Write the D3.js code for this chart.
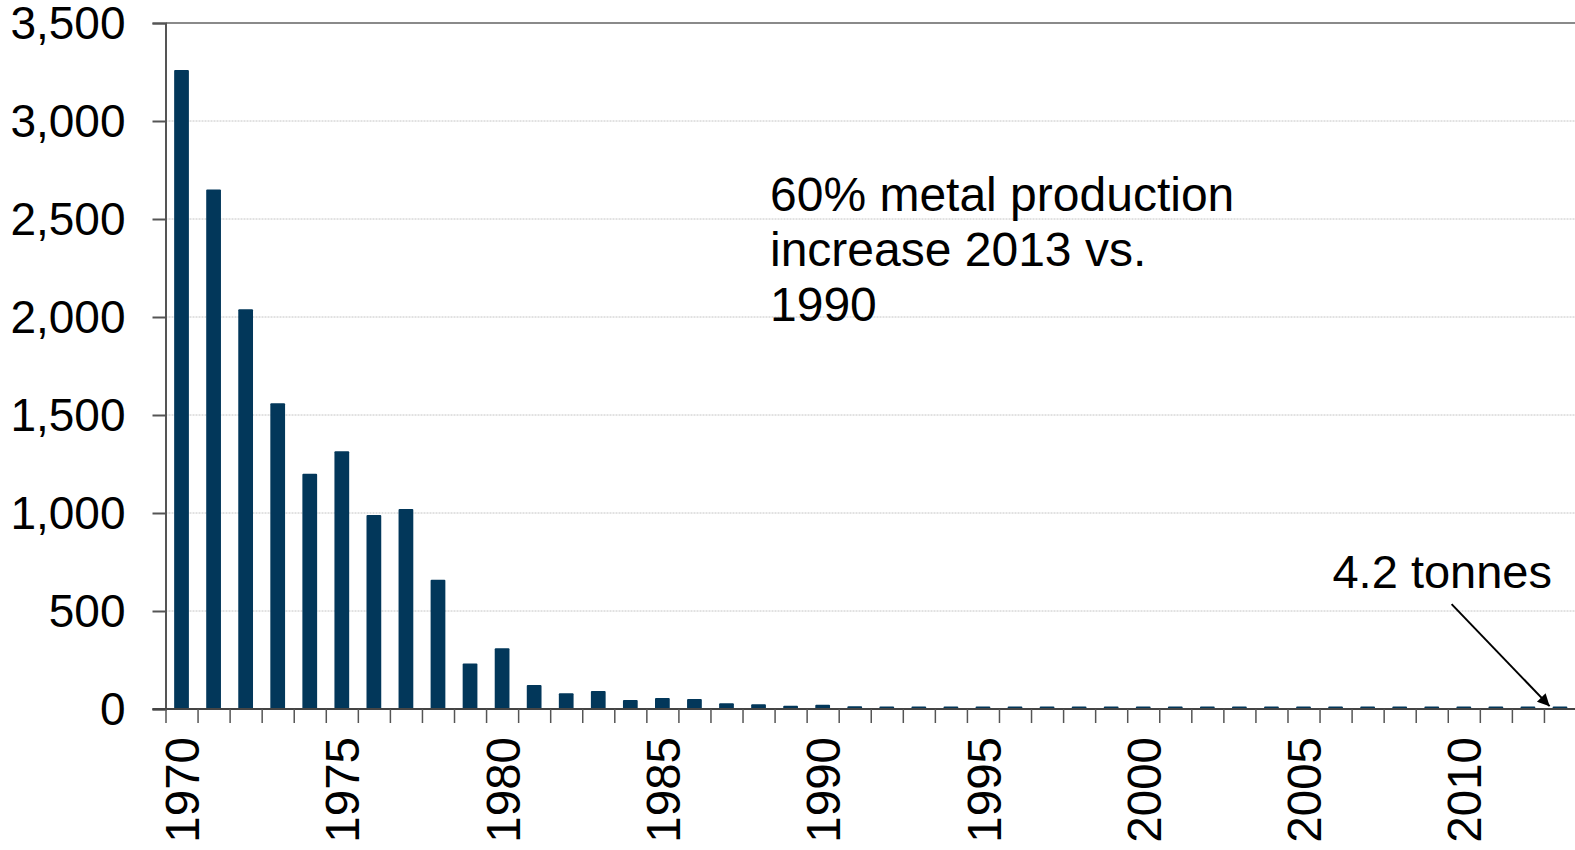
<!DOCTYPE html>
<html>
<head>
<meta charset="utf-8">
<script src="https://cdn.jsdelivr.net/npm/d3@7"></script>
<style>
  html, body { margin: 0; padding: 0; background: #fff; }
  svg { display: block; font-family: "Liberation Sans", Arial, sans-serif; }
</style>
</head>
<body>
<svg id="chart" width="1575" height="850"></svg>
<script>
// ---- data ----
const years = d3.range(1970, 2014);
const values = [
  3260, 2650, 2040, 1560, 1200, 1315, 990, 1020, 660, 232,
  310, 122, 80, 92, 46, 56, 51, 29, 24, 17,
  22, 14, 13, 11, 10, 10, 11, 10, 12, 9,
  9, 10, 8, 9, 8, 8, 7, 7, 6, 5,
  5, 5, 4.5, 4.2
];
const yTicks = [0, 500, 1000, 1500, 2000, 2500, 3000, 3500];
const xLabelYears = [1970, 1975, 1980, 1985, 1990, 1995, 2000, 2005, 2010];
const noteLines = ["60% metal production", "increase 2013 vs.", "1990"];
const arrowLabel = "4.2 tonnes";
const arrowYear = 2013;
const arrowValue = 4.2;

// ---- layout ----
const plotLeft = 165.5, plotRight = 1576, plotTop = 23, plotBottom = 709;
const svg = d3.select("#chart");

const x = d3.scaleBand().domain(years).range([plotLeft, plotRight]).paddingInner(0.54).paddingOuter(0.27);
const xEdge = d3.scaleLinear().domain([1970, 2014]).range([plotLeft, plotRight]);
const y = d3.scaleLinear().domain([0, 3500]).range([plotBottom, plotTop]);

// gridlines
svg.append("g")
  .selectAll("line")
  .data(yTicks.filter(d => d > 0))
  .join("line")
  .attr("x1", plotLeft).attr("x2", 1575)
  .attr("y1", d => y(d)).attr("y2", d => y(d))
  .attr("stroke", d => d === 3500 ? "#8a8a8a" : "#c4c4c4")
  .attr("stroke-width", d => d === 3500 ? 2 : 1)
  .attr("stroke-dasharray", d => d === 3500 ? null : "2,1");

// bars
svg.append("g")
  .selectAll("rect")
  .data(years.map((yr, i) => ({ yr, v: values[i] })))
  .join("rect")
  .attr("x", d => x(d.yr))
  .attr("width", x.bandwidth())
  .attr("y", d => Math.min(y(d.v), plotBottom - 2.5))
  .attr("height", d => Math.max(plotBottom - y(d.v), 2.5))
  .attr("fill", "#02375a")
  .attr("rx", 1);

// y axis
const yAxis = svg.append("g")
  .attr("transform", `translate(${plotLeft},0)`)
  .call(d3.axisLeft(y).tickValues(yTicks).tickFormat(d3.format(",")).tickSize(13).tickPadding(27));
yAxis.select(".domain").attr("stroke", "#555").attr("stroke-width", 2);
yAxis.selectAll(".tick line").attr("stroke", "#555").attr("stroke-width", 2);
yAxis.selectAll(".tick text")
  .attr("font-size", 46).attr("fill", "#000")
  .attr("font-family", "Liberation Sans, Arial, sans-serif")
  .attr("dy", "0.34em");

// x axis: tick marks at band edges
const xAxis = svg.append("g")
  .attr("transform", `translate(0,${plotBottom})`)
  .call(d3.axisBottom(xEdge).tickValues(d3.range(1970, 2015)).tickFormat("").tickSize(14).tickSizeOuter(0));
xAxis.select(".domain").attr("stroke", "#444").attr("stroke-width", 2)
  .attr("d", `M${plotLeft - 13},0H1575`);
xAxis.selectAll(".tick line").attr("stroke", "#555").attr("stroke-width", 1.5);

// x labels (rotated)
svg.append("g")
  .attr("transform", `translate(0,${plotBottom})`)
  .call(d3.axisBottom(x).tickValues(xLabelYears).tickSize(0).tickPadding(0))
  .call(g => g.select(".domain").remove())
  .selectAll(".tick text")
  .attr("font-size", 47.5).attr("fill", "#000")
  .attr("font-family", "Liberation Sans, Arial, sans-serif")
  .attr("text-anchor", "end")
  .attr("transform", "rotate(-90)")
  .attr("x", -28).attr("y", 0).attr("dy", "0.37em");

// annotation text
svg.append("text")
  .attr("x", 770).attr("y", 211)
  .attr("font-size", 48).attr("fill", "#000")
  .selectAll("tspan")
  .data(noteLines)
  .join("tspan")
  .attr("x", 770)
  .attr("dy", (d, i) => i === 0 ? 0 : 55)
  .text(d => d);

// arrow annotation
const defs = svg.append("defs");
defs.append("marker")
  .attr("id", "arrowhead")
  .attr("viewBox", "0 0 10 10")
  .attr("refX", 10).attr("refY", 5)
  .attr("markerWidth", 8).attr("markerHeight", 6)
  .attr("markerUnits", "strokeWidth")
  .attr("orient", "auto")
  .append("path").attr("d", "M0,0L10,5L0,10z").attr("fill", "#000");

const tipX = x(arrowYear) - 3, tipY = y(arrowValue) - 2;
svg.append("line")
  .attr("x1", tipX - 98).attr("y1", tipY - 102)
  .attr("x2", tipX).attr("y2", tipY)
  .attr("stroke", "#000").attr("stroke-width", 2)
  .attr("marker-end", "url(#arrowhead)");

svg.append("text")
  .attr("x", 1552).attr("y", 588)
  .attr("text-anchor", "end")
  .attr("font-size", 47).attr("fill", "#000")
  .text(arrowLabel);
</script>
</body>
</html>
